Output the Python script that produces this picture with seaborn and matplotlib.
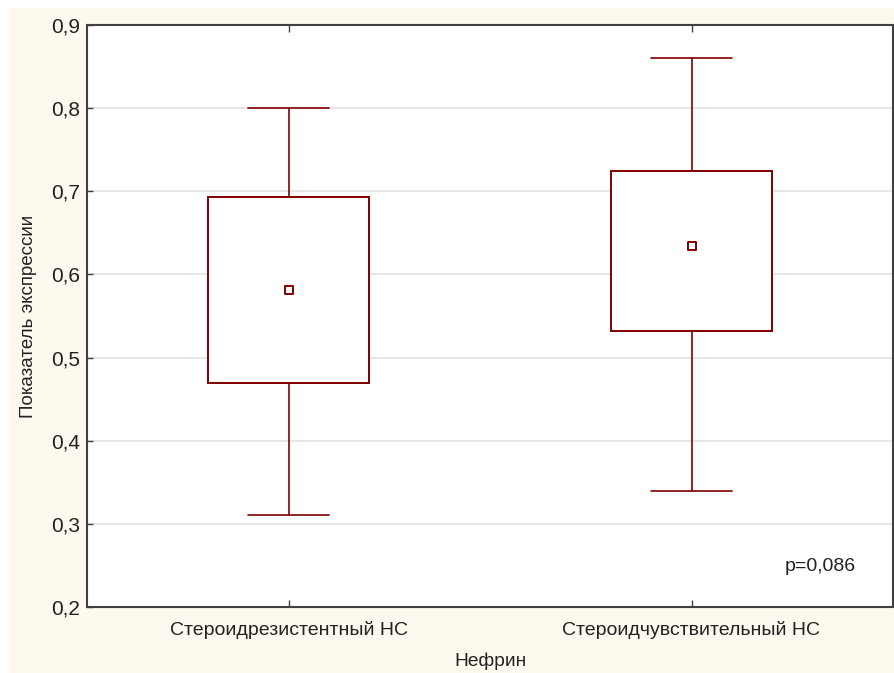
import numpy as np
import pandas as pd
import matplotlib
matplotlib.use("Agg")
import matplotlib.pyplot as plt
from matplotlib.patches import Rectangle
import seaborn as sns

# Data
categories = ["Стероидрезистентный НС", "Стероидчувствительный НС"]
means = [0.581, 0.634]
box_low = [0.470, 0.532]
box_high = [0.693, 0.725]
whisk_low = [0.311, 0.340]
whisk_high = [0.800, 0.860]
yticks = [0.2, 0.3, 0.4, 0.5, 0.6, 0.7, 0.8, 0.9]
ytick_labels = ["0,2", "0,3", "0,4", "0,5", "0,6", "0,7", "0,8", "0,9"]
p_text = "p=0,086"
xlabel = "Нефрин"
ylabel = "Показатель экспрессии"

sns.set_style("white")
plt.rcParams['font.family'] = ['Liberation Sans', 'DejaVu Sans']

RED = "#800000"
fig = plt.figure(figsize=(8.94, 6.73), dpi=100)
fig.patch.set_facecolor("white")
fig.patches.append(Rectangle((9/894, 0), 1 - 9/894, 1 - 8/673, transform=fig.transFigure,
                             facecolor="#FEF9EE", edgecolor="none", zorder=-10))
ax = fig.add_axes([87/894, 1 - 607/673, 806/894, 582/673])
ax.set_facecolor("white")

stats = []
for i, c in enumerate(categories):
    stats.append(dict(label=c, med=means[i], q1=box_low[i], q3=box_high[i],
                      whislo=whisk_low[i], whishi=whisk_high[i], fliers=[]))
ax.bxp(stats, positions=range(len(categories)), widths=0.4, showfliers=False,
       patch_artist=True, zorder=3,
       boxprops=dict(facecolor="white", edgecolor=RED, linewidth=1.4),
       whiskerprops=dict(color=RED, linewidth=1.2),
       capprops=dict(color=RED, linewidth=1.2),
       medianprops=dict(linewidth=0),
       capwidths=0.2)

df = pd.DataFrame({"cat": categories, "mean": means, "x": range(len(categories))})
sns.scatterplot(data=df, x="x", y="mean", marker="s", s=40, facecolor="white",
                edgecolor=RED, linewidth=1.4, ax=ax, zorder=5, legend=False)

ax.set_xlim(-0.5, 1.5)
ax.set_ylim(0.2, 0.9)
ax.set_yticks(yticks)
ax.set_yticklabels(ytick_labels, fontsize=15, color="#222222")
ax.set_xticks(range(len(categories)))
ax.set_xticklabels(categories, fontsize=14, color="#222222")
ax.yaxis.grid(True, color="#e2e2e2", linewidth=1.2, zorder=0)
ax.xaxis.grid(False)
ax.set_axisbelow(True)
ax.tick_params(axis="y", direction="in", length=4, width=1, color="#404040", pad=5, left=True)
ax.tick_params(axis="x", direction="in", length=5, width=1, color="#404040", pad=10,
               bottom=True, top=True)
for s in ax.spines.values():
    s.set_color("#404040")
    s.set_linewidth(1.5)
    s.set_visible(True)

ax.set_xlabel(xlabel, fontsize=13.8, color="#222222", labelpad=10)
ax.set_ylabel(ylabel, fontsize=13.5, color="#222222", labelpad=10)
ax.text(1.32, 0.249, p_text, fontsize=14, color="#222222", ha="center", va="center")

fig.savefig("out.png", dpi=100)
